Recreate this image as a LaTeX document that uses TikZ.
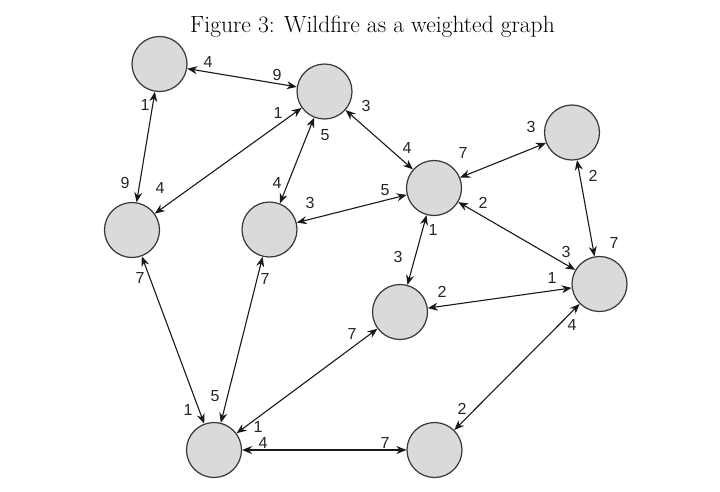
\documentclass[tikz,border=0pt]{standalone}
\usepackage{fontspec}
\newfontfamily\lblfont{Liberation Sans}
\usetikzlibrary{arrows.meta}
\definecolor{nodefill}{RGB}{218,218,218}
\definecolor{nodeline}{RGB}{55,55,55}
\definecolor{edgecol}{RGB}{25,25,25}
\tikzset{
  vert/.style={circle, minimum size=55pt, inner sep=0pt, fill=nodefill, draw=nodeline, line width=1.2pt},
  edge/.style={{Stealth[length=10pt,width=8pt]}-{Stealth[length=10pt,width=8pt]}, line width=1.1pt, draw=edgecol},
  lbl/.style={font=\lblfont\fontsize{16}{16}\selectfont, inner sep=0pt, text=black!85}
}
\begin{document}
\begin{tikzpicture}[x=1pt,y=-1pt]
\useasboundingbox[fill=white] (0,0) rectangle (720,491);
\node[anchor=base, font=\fontsize{23.5}{26}\selectfont] (title) at (372.5,32) {Figure 3: Wildfire as a weighted graph};
% vertices
\node[vert] (A) at (159.5,64) {};
\node[vert] (B) at (324.5,91.5) {};
\node[vert] (C) at (132,230) {};
\node[vert] (D) at (269.5,229.5) {};
\node[vert] (E) at (434,188) {};
\node[vert] (F) at (572,132.5) {};
\node[vert] (G) at (599.5,284) {};
\node[vert] (H) at (400,312) {};
\node[vert] (I) at (214,450) {};
\node[vert] (J) at (434.5,450) {};
% edges
\draw[edge] (A) -- (B);
\draw[edge] (A) -- (C);
\draw[edge] (B) -- (C);
\draw[edge] (B) -- (D);
\draw[edge] (B) -- (E);
\draw[edge] (D) -- (E);
\draw[edge] (E) -- (F);
\draw[edge] (E) -- (G);
\draw[edge] (E) -- (H);
\draw[edge] (F) -- (G);
\draw[edge] (H) -- (G);
\draw[edge] (C) -- (I);
\draw[edge] (D) -- (I);
\draw[edge] (H) -- (I);
\draw[edge] (I) -- (J);
\draw[edge] (G) -- (J);
% weights
\node[lbl] (ab1) at (208,62) {4};
\node[lbl] (ab2) at (277,75) {9};
\node[lbl] (ac1) at (145,105) {1};
\node[lbl] (ac2) at (125,183) {9};
\node[lbl] (bc1) at (278,113) {1};
\node[lbl] (bc2) at (160,188) {4};
\node[lbl] (bd1) at (325,135) {5};
\node[lbl] (bd2) at (277,183) {4};
\node[lbl] (be1) at (366,106) {3};
\node[lbl] (be2) at (407,148) {4};
\node[lbl] (de1) at (310,203) {3};
\node[lbl] (de2) at (385,190) {5};
\node[lbl] (ef1) at (463,153) {7};
\node[lbl] (ef2) at (531,127) {3};
\node[lbl] (eg1) at (483,203) {2};
\node[lbl] (eg2) at (566,252) {3};
\node[lbl] (eh1) at (433,230) {1};
\node[lbl] (eh2) at (398,257) {3};
\node[lbl] (fg1) at (593,176) {2};
\node[lbl] (fg2) at (614,243) {7};
\node[lbl] (hg1) at (442,292) {2};
\node[lbl] (hg2) at (552,278) {1};
\node[lbl] (ci1) at (140,278) {7};
\node[lbl] (ci2) at (188,410) {1};
\node[lbl] (di1) at (265,279) {7};
\node[lbl] (di2) at (215,396) {5};
\node[lbl] (hi1) at (352,334) {7};
\node[lbl] (hi2) at (258,427) {1};
\node[lbl] (ij1) at (263,443) {4};
\node[lbl] (ij2) at (385,443) {7};
\node[lbl] (gj1) at (572,325) {4};
\node[lbl] (gj2) at (462,409) {2};
\end{tikzpicture}
\end{document}
